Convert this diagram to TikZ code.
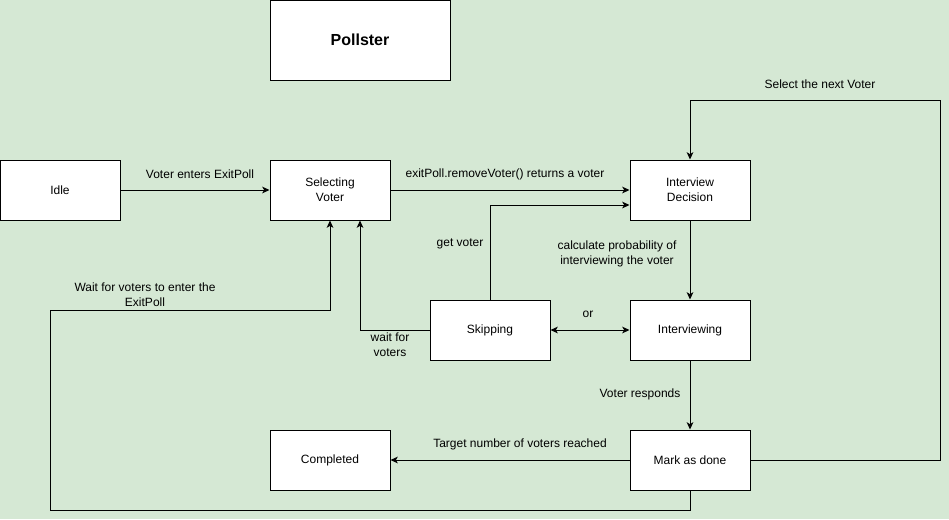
\documentclass[tikz,border=0pt]{standalone}
\usepackage{fontspec}
\setmainfont{Liberation Sans}
\usetikzlibrary{arrows.meta}
\definecolor{bg}{HTML}{D5E8D4}
\begin{document}
\begin{tikzpicture}[x=0.75pt,y=-0.75pt,
  state/.style={draw=black,fill=white,line width=0.75pt,minimum width=90pt,minimum height=45pt,inner sep=0pt,align=center,font=\fontsize{9}{11}\selectfont},
  conn/.style={draw=black,line width=0.75pt,-{Stealth[length=5.5pt,width=5pt,inset=1.5pt]}},
  lbl/.style={font=\fontsize{9}{11}\selectfont,align=center,inner sep=0pt}]
\fill[bg] (0,0) rectangle (949,519);
\useasboundingbox (0,0) rectangle (949,519);

\node[state,minimum width=135pt,minimum height=60pt,font=\fontsize{12}{14}\selectfont\bfseries] (poll) at (360,40) {Pollster};
\node[state] (idle) at (60,190) {Idle};
\node[state] (sel) at (330,190) {Selecting\\Voter};
\node[state] (dec) at (690,190) {Interview\\Decision};
\node[state] (skip) at (490,330) {Skipping};
\node[state] (intv) at (690,330) {Interviewing};
\node[state] (comp) at (330,460) {Completed};
\node[state] (done) at (690,460) {Mark as done};

\coordinate (skipUp) at (490,205);
\coordinate (skipL) at (360,330);
\coordinate (r1) at (940,460);
\coordinate (r2) at (940,100);
\coordinate (r3) at (690,100);
\coordinate (b1) at (690,510);
\coordinate (b2) at (50,510);
\coordinate (b3) at (50,310);
\coordinate (b4) at (330,310);

\draw[conn] (idle) -- (sel);
\draw[conn] (sel) -- (dec);
\draw[conn] (skip.north) -- (skipUp) -- (skipUp -| dec.west);
\draw[conn] (dec) -- (intv);
\draw[conn,{Stealth[length=5.5pt,width=5pt,inset=1.5pt]}-{Stealth[length=5.5pt,width=5pt,inset=1.5pt]}] (skip) -- (intv);
\draw[conn] (skip.west) -- (skipL) -- (skipL |- sel.south);
\draw[conn] (intv) -- (done);
\draw[conn] (done) -- (comp);
\draw[conn] (done.east) -- (r1) -- (r2) -- (r3) -- (dec.north);
\draw[conn] (done.south) -- (b1) -- (b2) -- (b3) -- (b4) -- (sel.south);

\node[lbl] (l1) at (200,174) {Voter enters ExitPoll};
\node[lbl] (l2) at (505,174) {exitPoll.removeVoter() returns a voter};
\node[lbl] (l3) at (460,244) {get voter};
\node[lbl] (l4) at (617,254) {calculate probability of\\interviewing the voter};
\node[lbl] (l5) at (588,314) {or};
\node[lbl] (l6) at (390,345) {wait for\\voters};
\node[lbl] (l7) at (640,394) {Voter responds};
\node[lbl] (l8) at (520,444) {Target number of voters reached};
\node[lbl] (l9) at (820,84) {Select the next Voter};
\node[lbl] (l10) at (145,295) {Wait for voters to enter the\\ExitPoll};
\end{tikzpicture}
\end{document}
